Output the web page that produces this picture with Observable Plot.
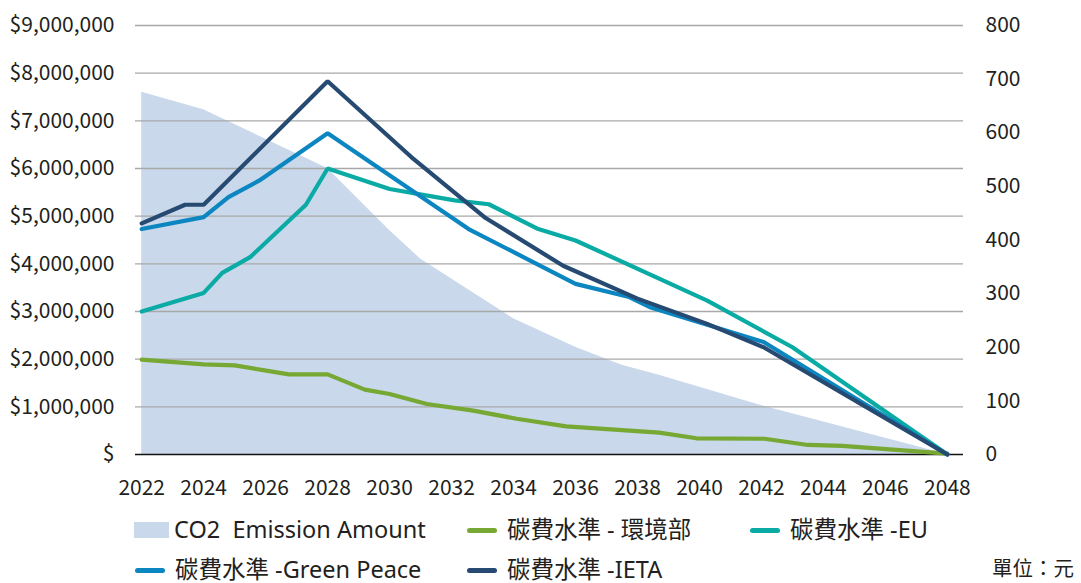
<!DOCTYPE html>
<html><head><meta charset="utf-8">
<script src="https://cdn.jsdelivr.net/npm/d3@7"></script>
<script src="https://cdn.jsdelivr.net/npm/@observablehq/plot@0.6"></script>
<style>
body{margin:0;background:#fff;font-family:"Noto Sans CJK TC","Noto Sans",sans-serif;color:#231f20;}
#wrap{position:relative;width:1081px;height:583px;overflow:hidden;}
.item{position:absolute;height:28px;display:flex;align-items:center;font-size:23.5px;white-space:pre;line-height:1;font-family:"Noto Sans","Noto Sans CJK TC",sans-serif;}
.sw-area{width:35px;height:16px;background:#c9d8ea;margin-right:5px;}
.sw-line{width:30px;height:5px;border-radius:3px;margin-right:10px;}
</style></head>
<body><div id="wrap"><div id="chart"></div><div id="legend"></div></div>
<script>
// ---- data (left-axis units, $) ----
const xTickYears = [2022,2024,2026,2028,2030,2032,2034,2036,2038,2040,2042,2044,2046,2048];
const leftTicks = [0,1e6,2e6,3e6,4e6,5e6,6e6,7e6,8e6,9e6];
const rightTicks = [0,100,200,300,400,500,600,700,800];

const emissionYears  = [2022, 2024, 2028, 2030, 2031, 2034, 2036, 2037.5, 2038.7, 2042.2, 2048];
const emissionValues = [7.60e6, 7.23e6, 6.00e6, 4.70e6, 4.10e6, 2.85e6, 2.25e6, 1.87e6, 1.66e6, 0.99e6, 0];

const moenvYears  = [2022, 2024, 2025, 2026.75, 2028, 2029.2, 2030, 2031.2, 2032.7, 2034.1, 2035.7, 2038.7, 2039.9, 2042.1, 2043.5, 2044.6, 2048];
const moenvValues = [1.99e6, 1.89e6, 1.87e6, 1.68e6, 1.68e6, 1.36e6, 1.27e6, 1.06e6, 0.92e6, 0.75e6, 0.59e6, 0.46e6, 0.34e6, 0.33e6, 0.20e6, 0.18e6, 0.02e6];

const euYears  = [2022, 2024, 2024.6, 2025.5, 2027.3, 2028, 2030, 2032.1, 2033.2, 2034.8, 2036, 2040.25, 2043, 2048];
const euValues = [3.00e6, 3.39e6, 3.81e6, 4.14e6, 5.24e6, 6.00e6, 5.57e6, 5.33e6, 5.25e6, 4.73e6, 4.49e6, 3.23e6, 2.25e6, 0];

const gpYears  = [2022, 2024, 2024.8, 2025.8, 2028, 2032.55, 2036, 2037.7, 2038.4, 2042.07, 2048];
const gpValues = [4.73e6, 4.98e6, 5.40e6, 5.75e6, 6.74e6, 4.73e6, 3.58e6, 3.31e6, 3.09e6, 2.36e6, 0];

const ietaYears  = [2022, 2023.4, 2024, 2028, 2030.7, 2033.1, 2035.6, 2038, 2040.25, 2042.07, 2048];
const ietaValues = [4.85e6, 5.24e6, 5.24e6, 7.83e6, 6.24e6, 4.96e6, 3.96e6, 3.27e6, 2.74e6, 2.25e6, 0];

const seriesNames = ["CO2  Emission Amount","碳費水準 - 環境部","碳費水準 -EU","碳費水準 -Green Peace","碳費水準 -IETA"];
const seriesColors = ["#c9d8ea","#76a833","#0aaaa5","#0b86c1","#264a72"];

const rightFactor = 9e6/800;
const toRows = (xs, vs) => xs.map((x,i)=>({year:x, value:vs[i]}));

const lineSpec = [
  [moenvYears, moenvValues, seriesColors[1]],
  [euYears, euValues, seriesColors[2]],
  [gpYears, gpValues, seriesColors[3]],
  [ietaYears, ietaValues, seriesColors[4]],
];

const chart = Plot.plot({
  width: 1081, height: 500,
  marginLeft: 135, marginRight: 118, marginTop: 25, marginBottom: 46,
  x: {domain: [2021.8, 2048.52]},
  y: {domain: [0, 9e6]},
  style: {fontFamily: '"Noto Sans CJK TC","Noto Sans",sans-serif', fontSize: "21px", color: "#231f20", background: "white", overflow: "visible"},
  marks: [
    Plot.areaY(toRows(emissionYears, emissionValues), {x:"year", y:"value", fill: seriesColors[0]}),
    Plot.gridY(leftTicks.slice(1), {stroke:"#a8a8a8", strokeOpacity:1, strokeWidth:1.4}),
    Plot.ruleY([0], {stroke:"#111", strokeWidth:1.6}),
    ...lineSpec.map(([xs, vs, c]) => Plot.line(toRows(xs, vs), {x:"year", y:"value", stroke:c, strokeWidth:4.2, strokeLinejoin:"miter", strokeLinecap:"round"})),
    Plot.axisX({ticks: xTickYears, tickSize: 0, tickPadding: 26, tickFormat: d => String(d), label: null}),
    Plot.axisY({anchor:"left", ticks: leftTicks, tickSize: 0, tickPadding: 21, label: null,
      tickFormat: d => d === 0 ? "$" : "$" + d3.format(",")(d)}),
    Plot.axisY({anchor:"right", ticks: rightTicks.map(r => r*rightFactor), tickSize: 0, tickPadding: 22, label: null,
      tickFormat: d => String(Math.round(d/rightFactor))})
  ]
});
document.getElementById("chart").appendChild(chart);

// legend
const legendItems = [
  {name: seriesNames[0], color: seriesColors[0], kind:"area", left:134, top:516},
  {name: seriesNames[1], color: seriesColors[1], kind:"line", left:467, top:516},
  {name: seriesNames[2], color: seriesColors[2], kind:"line", left:750, top:516},
  {name: seriesNames[3], color: seriesColors[3], kind:"line", left:135, top:556},
  {name: seriesNames[4], color: seriesColors[4], kind:"line", left:467, top:556},
];
const lg = document.getElementById("legend");
for (const it of legendItems) {
  const d = document.createElement("div");
  d.className = "item";
  d.style.left = it.left + "px"; d.style.top = it.top + "px";
  const sw = document.createElement("span");
  sw.className = it.kind === "area" ? "sw-area" : "sw-line";
  sw.style.background = it.color;
  const t = document.createElement("span");
  t.textContent = it.name;
  d.appendChild(sw); d.appendChild(t);
  lg.appendChild(d);
}
const unit = document.createElement("div");
unit.className = "item";
unit.style.left = "992px"; unit.style.top = "554px"; unit.style.fontSize = "20.5px";
unit.textContent = "單位：元";
lg.appendChild(unit);
</script>
</body></html>
